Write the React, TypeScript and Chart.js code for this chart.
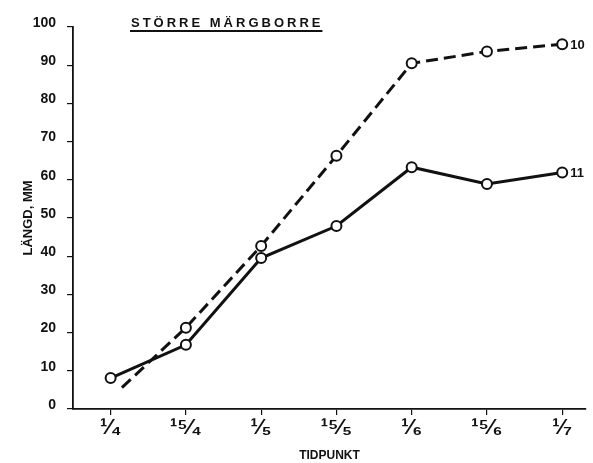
import React, { useEffect, useRef } from "react";
import { Chart, registerables } from "chart.js";

Chart.register(...registerables);

const chartTitle = "STÖRRE MÄRGBORRE";
const yAxisTitle = "LÄNGD, MM";
const xAxisTitle = "TIDPUNKT";
const xTickLabels = ["¹⁄₄", "¹⁵⁄₄", "¹⁄₅", "¹⁵⁄₅", "¹⁄₆", "¹⁵⁄₆", "¹⁄₇"];
const xTickValues = [0, 1, 2, 3, 4, 5, 6];
const yTickValues = [0, 10, 20, 30, 40, 50, 60, 70, 80, 90, 100];

const series10Label = "10";
const series10X = [0.15, 1, 2, 3, 4, 5, 6];
const series10Y = [5.6, 21.3, 42.7, 66.3, 90.5, 93.6, 95.5];
const series10Marker = [false, true, true, true, true, true, true];

const series11Label = "11";
const series11X = [0, 1, 2, 3, 4, 5, 6];
const series11Y = [8.1, 16.8, 39.5, 47.9, 63.3, 58.9, 61.9];

const INK = "#111";
const FONT = "'Liberation Sans', 'DejaVu Sans', sans-serif";

const titlePlugin = {
  id: "underlinedTitle",
  afterDraw(chart: any) {
    const { ctx, chartArea } = chart;
    ctx.save();
    ctx.font = `bold 13px ${FONT}`;
    (ctx as any).letterSpacing = "3px";
    ctx.fillStyle = INK;
    ctx.textBaseline = "alphabetic";
    ctx.textAlign = "left";
    const x = chartArea.left + 58;
    const y = 27;
    ctx.fillText(chartTitle, x, y);
    const w = ctx.measureText(chartTitle).width;
    ctx.strokeStyle = INK;
    ctx.lineWidth = 1.8;
    ctx.beginPath();
    ctx.moveTo(x - 1, y + 4);
    ctx.lineTo(x + w - 1, y + 4);
    ctx.stroke();
    ctx.restore();
  },
};

const endLabelPlugin = {
  id: "endLabels",
  afterDatasetsDraw(chart: any) {
    const { ctx } = chart;
    ctx.save();
    ctx.font = `bold 13px ${FONT}`;
    ctx.fillStyle = INK;
    ctx.textBaseline = "middle";
    ctx.textAlign = "left";
    chart.data.datasets.forEach((ds: any, i: number) => {
      const meta = chart.getDatasetMeta(i);
      const last = meta.data[meta.data.length - 1];
      if (last) ctx.fillText(ds.label, last.x + 8, last.y + 1);
    });
    ctx.restore();
  },
};

export default function App() {
  const ref = useRef<HTMLCanvasElement | null>(null);

  useEffect(() => {
    if (!ref.current) return;
    const chart = new Chart(ref.current, {
      type: "line",
      data: {
        datasets: [
          {
            label: series10Label,
            data: series10X.map((x, i) => ({ x, y: series10Y[i] })),
            borderColor: INK,
            borderWidth: 3,
            borderDash: [12, 6],
            pointRadius: series10Marker.map((m) => (m ? 5 : 0)),
            pointBackgroundColor: "#fff",
            pointBorderColor: INK,
            pointBorderWidth: 2,
            tension: 0,
          },
          {
            label: series11Label,
            data: series11X.map((x, i) => ({ x, y: series11Y[i] })),
            borderColor: INK,
            borderWidth: 3,
            pointRadius: 5,
            pointBackgroundColor: "#fff",
            pointBorderColor: INK,
            pointBorderWidth: 2,
            tension: 0,
          },
        ],
      },
      options: {
        animation: false,
        responsive: true,
        maintainAspectRatio: false,
        layout: { padding: { left: 0, right: 3, top: 27, bottom: 0 } },
        plugins: {
          legend: { display: false },
          title: { display: false },
          tooltip: { enabled: false },
        },
        scales: {
          x: {
            type: "linear",
            min: -0.5,
            max: 6.316,
            afterBuildTicks: (s: any) => {
              s.ticks = xTickValues.map((v) => ({ value: v }));
            },
            afterFit: (s: any) => {
              s.height = 54;
            },
            ticks: {
              autoSkip: false,
              maxRotation: 0,
              color: INK,
              padding: 0,
              font: { family: FONT, size: 22, weight: "bold" },
              callback: (v: any) => xTickLabels[xTickValues.indexOf(Number(v))] ?? "",
            },
            grid: {
              display: true,
              drawOnChartArea: false,
              drawTicks: true,
              tickLength: 6,
              color: INK,
              lineWidth: 1.2,
            },
            border: { display: true, color: INK, width: 1.8 },
            title: {
              display: true,
              text: xAxisTitle,
              color: INK,
              font: { family: FONT, size: 12, weight: "bold" },
              padding: { top: 3, bottom: 0 },
            },
          },
          y: {
            type: "linear",
            min: 0,
            max: 100,
            afterBuildTicks: (s: any) => {
              s.ticks = yTickValues.map((v) => ({ value: v }));
            },
            afterFit: (s: any) => {
              s.width = 73;
            },
            ticks: {
              color: INK,
              padding: 11,
              labelOffset: -4,
              font: { family: FONT, size: 14, weight: "bold" },
            },
            grid: {
              display: true,
              drawOnChartArea: false,
              drawTicks: true,
              tickLength: 6,
              color: INK,
              lineWidth: 1.2,
            },
            border: { display: true, color: INK, width: 1.8 },
            title: {
              display: true,
              text: yAxisTitle,
              color: INK,
              font: { family: FONT, size: 13, weight: "bold" },
              padding: { top: 21, bottom: 0 },
            },
          },
        },
      },
      plugins: [titlePlugin, endLabelPlugin],
    });
    return () => chart.destroy();
  }, []);

  return (
    <div style={{ position: "absolute", left: 0, top: 0, width: 593, height: 463, background: "#fff" }}>
      <canvas ref={ref} />
    </div>
  );
}
